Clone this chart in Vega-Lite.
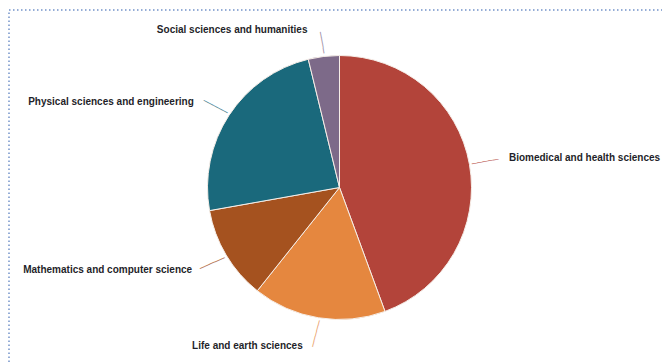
{
  "$schema": "https://vega.github.io/schema/vega-lite/v6.json",
  "width": 661,
  "height": 355,
  "autosize": {"type": "none"},
  "padding": {"left": 9, "top": 10, "right": -8, "bottom": -2},
  "background": "white",
  "view": {"stroke": "#7393c9", "strokeDash": [1.5, 2.5], "strokeWidth": 1.5},
  "data": {
    "values": [
      {"category": "Biomedical and health sciences", "share": 44.4},
      {"category": "Life and earth sciences", "share": 16.3},
      {"category": "Mathematics and computer science", "share": 11.5},
      {"category": "Physical sciences and engineering", "share": 24.0},
      {"category": "Social sciences and humanities", "share": 3.8}
    ]
  },
  "encoding": {
    "theta": {"field": "share", "type": "quantitative", "stack": true},
    "order": {"field": "category", "type": "nominal", "sort": "ascending"},
    "color": {
      "field": "category",
      "type": "nominal",
      "legend": null,
      "scale": {
        "domain": ["Biomedical and health sciences", "Life and earth sciences", "Mathematics and computer science", "Physical sciences and engineering", "Social sciences and humanities"],
        "range": ["#b3443a", "#e5873f", "#a5521f", "#1a697c", "#7d6a89"]
      }
    }
  },
  "layer": [
    {"mark": {"type": "arc", "radius": 132, "stroke": "#f6eee8", "strokeWidth": 1}},
    {"mark": {"type": "text", "radius": 148, "align": "center", "baseline": "middle", "angle": -10, "font": "DejaVu Sans Mono", "fontSize": 9, "opacity": 0.8},
     "encoding": {"text": {"condition": {"test": "datum.category === 'Biomedical and health sciences'", "value": "─────"}, "value": ""}}},
    {"mark": {"type": "text", "radius": 148, "align": "center", "baseline": "middle", "angle": 105, "font": "DejaVu Sans Mono", "fontSize": 9, "opacity": 0.8},
     "encoding": {"text": {"condition": {"test": "datum.category === 'Life and earth sciences'", "value": "─────"}, "value": ""}}},
    {"mark": {"type": "text", "radius": 148, "align": "center", "baseline": "middle", "angle": -24, "font": "DejaVu Sans Mono", "fontSize": 9, "opacity": 0.8},
     "encoding": {"text": {"condition": {"test": "datum.category === 'Mathematics and computer science'", "value": "─────"}, "value": ""}}},
    {"mark": {"type": "text", "radius": 148, "align": "center", "baseline": "middle", "angle": 28, "font": "DejaVu Sans Mono", "fontSize": 9, "opacity": 0.8},
     "encoding": {"text": {"condition": {"test": "datum.category === 'Physical sciences and engineering'", "value": "─────"}, "value": ""}}},
    {"mark": {"type": "text", "radius": 146, "align": "center", "baseline": "middle", "angle": 80, "font": "DejaVu Sans Mono", "fontSize": 9, "opacity": 0.8},
     "encoding": {"text": {"condition": {"test": "datum.category === 'Social sciences and humanities'", "value": "────"}, "value": ""}}},
    {"mark": {"type": "text", "radius": 168, "align": "left", "baseline": "middle", "dx": 4, "dy": 0, "font": "Liberation Sans", "fontWeight": "bold", "fontSize": 10},
     "encoding": {"text": {"condition": {"test": "datum.category === 'Biomedical and health sciences'", "field": "category", "type": "nominal"}, "value": ""}, "color": {"value": "#1f1f2a"}, "detail": {"field": "category", "type": "nominal"}}},
    {"mark": {"type": "text", "radius": 168, "align": "right", "baseline": "middle", "dx": -10, "dy": -7, "font": "Liberation Sans", "fontWeight": "bold", "fontSize": 10},
     "encoding": {"text": {"condition": {"test": "datum.category === 'Life and earth sciences'", "field": "category", "type": "nominal"}, "value": ""}, "color": {"value": "#1f1f2a"}, "detail": {"field": "category", "type": "nominal"}}},
    {"mark": {"type": "text", "radius": 168, "align": "right", "baseline": "middle", "dx": -3, "dy": -3, "font": "Liberation Sans", "fontWeight": "bold", "fontSize": 10},
     "encoding": {"text": {"condition": {"test": "datum.category === 'Mathematics and computer science'", "field": "category", "type": "nominal"}, "value": ""}, "color": {"value": "#1f1f2a"}, "detail": {"field": "category", "type": "nominal"}}},
    {"mark": {"type": "text", "radius": 168, "align": "right", "baseline": "middle", "dx": -5, "dy": 6, "font": "Liberation Sans", "fontWeight": "bold", "fontSize": 10},
     "encoding": {"text": {"condition": {"test": "datum.category === 'Physical sciences and engineering'", "field": "category", "type": "nominal"}, "value": ""}, "color": {"value": "#1f1f2a"}, "detail": {"field": "category", "type": "nominal"}}},
    {"mark": {"type": "text", "radius": 168, "align": "right", "baseline": "middle", "dx": -12, "dy": 9, "font": "Liberation Sans", "fontWeight": "bold", "fontSize": 10},
     "encoding": {"text": {"condition": {"test": "datum.category === 'Social sciences and humanities'", "field": "category", "type": "nominal"}, "value": ""}, "color": {"value": "#1f1f2a"}, "detail": {"field": "category", "type": "nominal"}}}
  ]
}
